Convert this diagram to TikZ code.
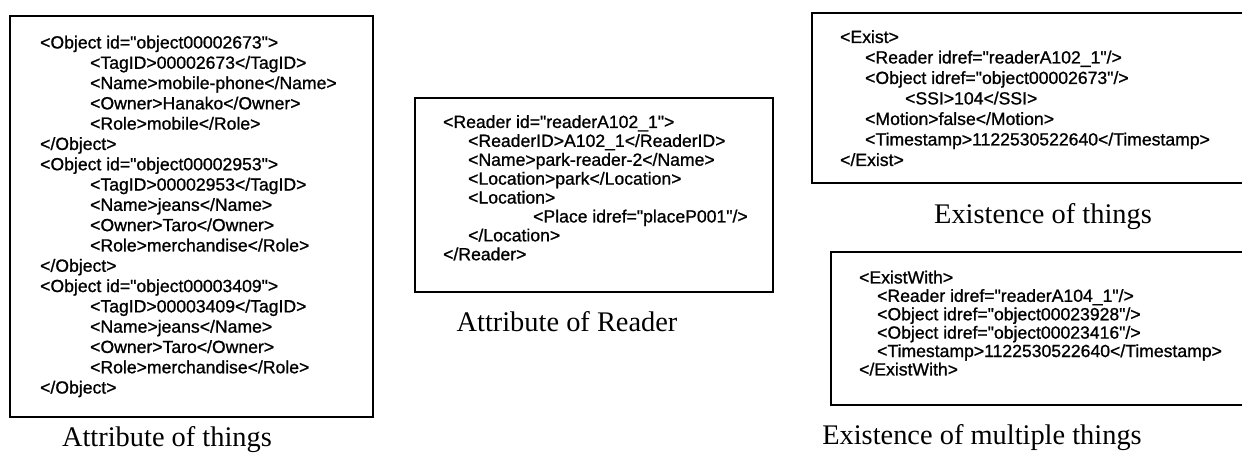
\documentclass[tikz,border=0pt]{standalone}
\usepackage{fontspec}
\setmainfont{Liberation Serif}
\newfontfamily\codefont[FakeBold=1]{Liberation Sans}
\newcommand{\ind}[1]{\hspace*{#1pt}}
\begin{document}
\begin{tikzpicture}[x=1pt,y=-1pt,
  frame/.style={line width=1.8pt,line join=miter},
  xmlbody/.style={anchor=north west,inner sep=0pt,align=left},
  caption/.style={anchor=base,inner sep=0pt,font=\fontsize{28.4}{30}\selectfont}]
\useasboundingbox (0,0) rectangle (1242,454);
\clip (0,0) rectangle (1242,454);

% frames around the four XML listings
\draw[frame] (10,16) rectangle (373,417);
\draw[frame] (415,98) rectangle (773,292);
\draw[frame] (1250,13) -- (812,13) -- (812,183) -- (1250,183);
\draw[frame] (1250,252) -- (831,252) -- (831,405) -- (1250,405);

% object attributes
\node[xmlbody,font=\codefont\fontsize{17.6}{20.3}\selectfont] (objattr) at (40,35.5) {%
<Object id="object00002673">\\
\ind{50}<TagID>00002673</TagID>\\
\ind{50}<Name>mobile-phone</Name>\\
\ind{50}<Owner>Hanako</Owner>\\
\ind{50}<Role>mobile</Role>\\
</Object>\\
<Object id="object00002953">\\
\ind{50}<TagID>00002953</TagID>\\
\ind{50}<Name>jeans</Name>\\
\ind{50}<Owner>Taro</Owner>\\
\ind{50}<Role>merchandise</Role>\\
</Object>\\
<Object id="object00003409">\\
\ind{50}<TagID>00003409</TagID>\\
\ind{50}<Name>jeans</Name>\\
\ind{50}<Owner>Taro</Owner>\\
\ind{50}<Role>merchandise</Role>\\
</Object>};

% reader attributes
\node[xmlbody,font=\codefont\fontsize{17.6}{18.9}\selectfont] (rdrattr) at (443,115) {%
<Reader id="readerA102\_1">\\
\ind{25}<ReaderID>A102\_1</ReaderID>\\
\ind{25}<Name>park-reader-2</Name>\\
\ind{25}<Location>park</Location>\\
\ind{25}<Location>\\
\ind{90}<Place idref="placeP001"/>\\
\ind{25}</Location>\\
</Reader>};

% existence of a single object
\node[xmlbody,font=\codefont\fontsize{17.6}{20.5}\selectfont] (exist) at (840,30) {%
<Exist>\\
\ind{25}<Reader idref="readerA102\_1"/>\\
\ind{25}<Object idref="object00002673"/>\\
\ind{65}<SSI>104</SSI>\\
\ind{25}<Motion>false</Motion>\\
\ind{25}<Timestamp>1122530522640</Timestamp>\\
</Exist>};

% existence of several objects together
\node[xmlbody,font=\codefont\fontsize{17.6}{18.4}\selectfont] (existwith) at (859,270.5) {%
<ExistWith>\\
\ind{18}<Reader idref="readerA104\_1"/>\\
\ind{18}<Object idref="object00023928"/>\\
\ind{18}<Object idref="object00023416"/>\\
\ind{18}<Timestamp>1122530522640</Timestamp>\\
</ExistWith>};

% captions
\node[caption] (cap1) at (167,446) {Attribute of things};
\node[caption] (cap2) at (567,331) {Attribute of Reader};
\node[caption] (cap3) at (1043,224) {Existence of things};
\node[caption] (cap4) at (982,444) {Existence of multiple things};
\end{tikzpicture}
\end{document}
